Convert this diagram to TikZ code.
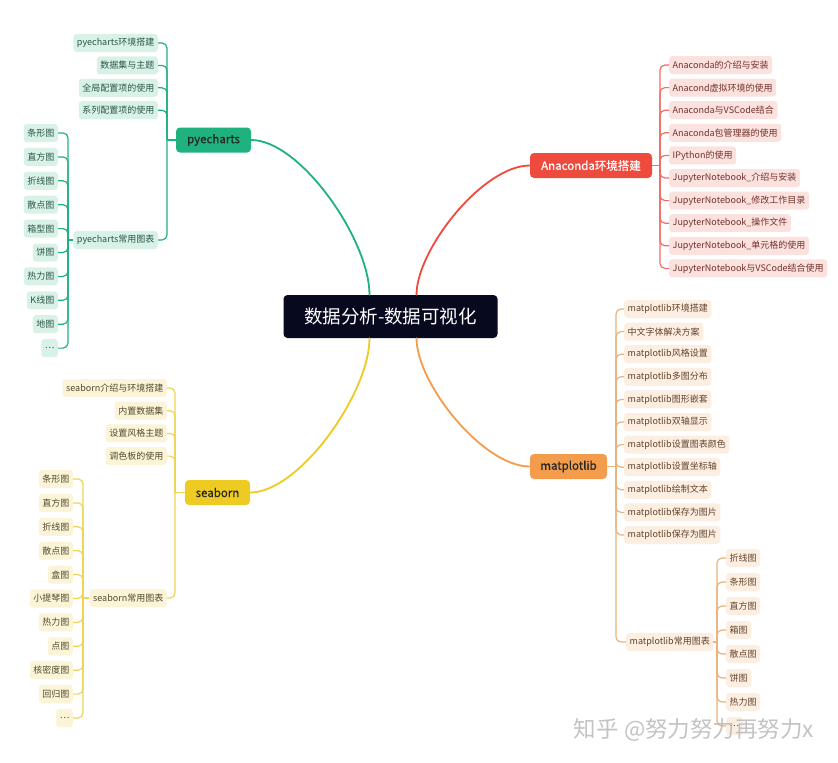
\documentclass[tikz,border=0pt]{standalone}
\usepackage{fontspec}
\setmainfont{Noto Sans CJK SC}
\usetikzlibrary{positioning}

\definecolor{rootblue}{HTML}{07091F}
\definecolor{pyegreen}{HTML}{1FB27E}
\definecolor{pyefill}{HTML}{D9F2E8}
\definecolor{pyetext}{HTML}{2A5646}
\definecolor{anared}{HTML}{EE4A3E}
\definecolor{anafill}{HTML}{FCE2DF}
\definecolor{anatext}{HTML}{72302B}
\definecolor{mplorange}{HTML}{F39C4C}
\definecolor{mplline}{HTML}{EBB27C}
\definecolor{mplfill}{HTML}{FDEEE2}
\definecolor{mpltext}{HTML}{63432A}
\definecolor{sbyellow}{HTML}{EECB22}
\definecolor{sbline}{HTML}{F0D452}
\definecolor{sbfill}{HTML}{FBF4D8}
\definecolor{sbtext}{HTML}{524A2C}

\newcommand{\moredots}{\ldots}

\begin{document}
\begin{tikzpicture}[
    x=1pt, y=-1pt,
    rootbox/.style={rectangle, fill=rootblue, text=white, rounded corners=4pt, minimum width=214pt, minimum height=43pt, font=\fontsize{18.5}{20}\selectfont},
    mainbox/.style={rectangle, rounded corners=4pt, minimum height=25pt, inner xsep=6pt, font=\fontsize{11.5}{12}\selectfont\addfontfeature{FakeBold=0.6}},
    leaf/.style={rectangle, rounded corners=3pt, inner xsep=3.5pt, inner ysep=0pt, minimum height=18pt, font=\fontsize{9}{10}\selectfont},
    greenleaf/.style={leaf, fill=pyefill, text=pyetext},
    redleaf/.style={leaf, fill=anafill, text=anatext},
    orangeleaf/.style={leaf, fill=mplfill, text=mpltext},
    yellowleaf/.style={leaf, fill=sbfill, text=sbtext},
    branch/.style={line width=1.8pt, line cap=round},
    twig/.style={line width=1.2pt, rounded corners=5pt}
]

\fill[white] (0,0) rectangle (838,763);
\useasboundingbox (0,0) rectangle (838,763);

\node[rootbox] (root) at (390.5,316.5) {数据分析-数据可视化};

\node[mainbox, fill=pyegreen, text=black!85, minimum width=75pt] (py) at (213.5,140) {pyecharts};
\node[mainbox, fill=anared, text=white, minimum width=122pt] (ana) at (591,165.5) {Anaconda环境搭建};
\node[mainbox, fill=mplorange, text=black!85, minimum width=77pt] (mpl) at (568.5,466.5) {matplotlib};
\node[mainbox, fill=sbyellow, text=black!85, minimum width=65pt] (sb) at (217.5,492.5) {seaborn};

% main branches
\draw[branch, pyegreen] (py.east) .. controls +(49,0) and +(0,-55) .. ([xshift=-21pt]root.north);
\draw[branch, anared] ([xshift=26pt]root.north) .. controls +(0,-45) and +(-47,0) .. (ana.west);
\draw[branch, mplorange] ([xshift=26pt]root.south) .. controls +(0,45) and +(-47,0) .. (mpl.west);
\draw[branch, sbyellow] ([xshift=-21pt]root.south) .. controls +(0,55) and +(49,0) .. (sb.east);

% Anaconda
\coordinate (anaJ) at (660,165.5);
\draw[twig, anared!80] (ana.east) -- (anaJ);
\foreach \lbl [count=\i] in {Anaconda的介绍与安装, Anacond虚拟环境的使用, Anaconda与VSCode结合, Anaconda包管理器的使用, IPython的使用, JupyterNotebook\_介绍与安装, JupyterNotebook\_修改工作目录, JupyterNotebook\_操作文件, JupyterNotebook\_单元格的使用, JupyterNotebook与VSCode结合使用}
{
    \node[redleaf, anchor=west] (ana\i) at (669,{42.4+22.6*\i}) {\lbl};
    \draw[twig, anared!80] (anaJ) |- (ana\i.west);
}

% matplotlib
\coordinate (mplJ) at (616,466.5);
\draw[twig, mplline] (mpl.east) -- (mplJ);
\foreach \lbl [count=\i] in {matplotlib环境搭建, 中文字体解决方案, matplotlib风格设置, matplotlib多图分布, matplotlib图形嵌套, matplotlib双轴显示, matplotlib设置图表颜色, matplotlib设置坐标轴, matplotlib绘制文本, matplotlib保存为图片, matplotlib保存为图片}
{
    \node[orangeleaf, anchor=west] (mpl\i) at (624,{286.4+22.6*\i}) {\lbl};
    \draw[twig, mplline] (mplJ) |- (mpl\i.west);
}
\node[orangeleaf, anchor=west] (mplc) at (626,642) {matplotlib常用图表};
\draw[twig, mplline] (mplJ) |- (mplc.west);
\coordinate (mplcJ) at (717,642);
\draw[twig, mplline] (mplc.east) -- (mplcJ);
\foreach \lbl [count=\i] in {折线图, 条形图, 直方图, 箱图, 散点图, 饼图, 热力图, \moredots}
{
    \node[orangeleaf, anchor=west] (mplc\i) at (726,{534+24*\i}) {\lbl};
    \draw[twig, mplline] (mplcJ) |- (mplc\i.west);
}

% pyecharts
\coordinate (pyJ) at (167,140);
\draw[twig, pyegreen] (py.west) -- (pyJ);
\foreach \lbl [count=\i] in {pyecharts环境搭建, 数据集与主题, 全局配置项的使用, 系列配置项的使用}
{
    \node[greenleaf, anchor=east] (py\i) at (158,{20.6+22.4*\i}) {\lbl};
    \draw[twig, pyegreen] (pyJ) |- (py\i.east);
}
\node[greenleaf, anchor=east] (pyc) at (158,240) {pyecharts常用图表};
\draw[twig, pyegreen] (pyJ) |- (pyc.east);
\coordinate (pycJ) at (68,240);
\draw[twig, pyegreen] (pyc.west) -- (pycJ);
\foreach \lbl [count=\i] in {条形图, 直方图, 折线图, 散点图, 箱型图, 饼图, 热力图, K线图, 地图, \moredots}
{
    \node[greenleaf, anchor=east] (pyc\i) at (58,{109.1+23.9*\i}) {\lbl};
    \draw[twig, pyegreen] (pycJ) |- (pyc\i.east);
}

% seaborn
\coordinate (sbJ) at (175,492.5);
\draw[twig, sbline] (sb.west) -- (sbJ);
\foreach \lbl [count=\i] in {seaborn介绍与环境搭建, 内置数据集, 设置风格主题, 调色板的使用}
{
    \node[yellowleaf, anchor=east] (sb\i) at (167,{365.3+22.7*\i}) {\lbl};
    \draw[twig, sbline] (sbJ) |- (sb\i.east);
}
\node[yellowleaf, anchor=east] (sbc) at (167,598) {seaborn常用图表};
\draw[twig, sbline] (sbJ) |- (sbc.east);
\coordinate (sbcJ) at (83,598);
\draw[twig, sbline] (sbc.west) -- (sbcJ);
\foreach \lbl [count=\i] in {条形图, 直方图, 折线图, 散点图, 盒图, 小提琴图, 热力图, 点图, 核密度图, 回归图, \moredots}
{
    \node[yellowleaf, anchor=east] (sbc\i) at (73,{455.1+23.9*\i}) {\lbl};
    \draw[twig, sbline] (sbcJ) |- (sbc\i.east);
}

\node[text=gray!55, opacity=0.85, font=\fontsize{22.5}{24}\selectfont] (watermark) at (694,730) {知乎 @努力努力再努力x};

\end{tikzpicture}
\end{document}
